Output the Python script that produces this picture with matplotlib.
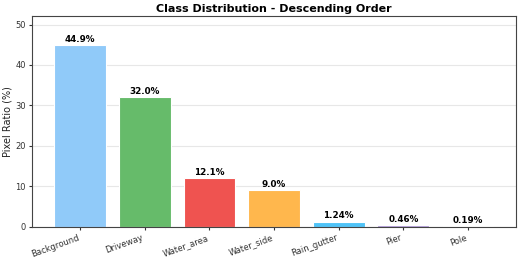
import matplotlib
matplotlib.use('Agg')
import matplotlib.pyplot as plt

classes = ['Background', 'Driveway', 'Water_area', 'Water_side', 'Rain_gutter', 'Pier', 'Pole']
ratios = [44.9, 32.0, 12.1, 9.0, 1.24, 0.46, 0.19]
colors = ['#90CAF9', '#66BB6A', '#EF5350', '#FFB74D', '#4FC3F7', '#B39DDB', '#B0BEC5']

fig, ax = plt.subplots(figsize=(5.21, 2.60), dpi=100)
bars = ax.bar(classes, ratios, color=colors, edgecolor='white', linewidth=0.8)

for bar, r in zip(bars, ratios):
    label = f'{r:.1f}%' if r >= 5 else f'{r:.2f}%'
    ax.text(bar.get_x() + bar.get_width() / 2, bar.get_height() + 0.3, label,
            ha='center', va='bottom', fontsize=6.3, fontweight='bold')

ax.set_title('Class Distribution - Descending Order', fontsize=8, fontweight='bold', pad=3)
ax.set_ylabel('Pixel Ratio (%)', fontsize=7, color='#222222', labelpad=2)
ax.set_ylim(0, max(ratios) * 1.16)
ax.tick_params(axis='both', labelsize=6, length=2.5, pad=2, colors='#333333')
for s in ax.spines.values():
    s.set_color('#444444')
plt.setp(ax.get_xticklabels(), rotation=20, ha='right')
ax.yaxis.grid(True, alpha=0.3)
ax.set_axisbelow(True)

fig.subplots_adjust(left=0.062, right=0.99, top=0.938, bottom=0.128)
fig.savefig('out.png', dpi=100)
